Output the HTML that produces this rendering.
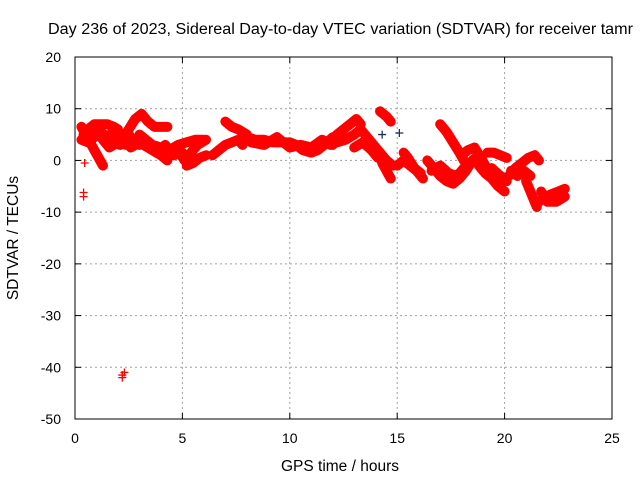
<!DOCTYPE html>
<html><head><meta charset="utf-8"><style>
html,body{margin:0;padding:0;background:#fff;}
svg{display:block;font-family:"Liberation Sans",sans-serif;}
</style></head><body>
<svg id="chart" width="640" height="480">
<g id="grid"></g>
<g id="marks"></g>
<g id="axes"></g>
<text x="48" y="34" font-size="15.5" textLength="585" lengthAdjust="spacingAndGlyphs">Day 236 of 2023, Sidereal Day-to-day VTEC variation (SDTVAR) for receiver tamr</text>
<text x="340" y="471" font-size="15.5" text-anchor="middle">GPS time / hours</text>
<text transform="translate(18,238) rotate(-90)" font-size="15.5" text-anchor="middle">SDTVAR / TECUs</text>
</svg>
<script>
const xTicks=[0,5,10,15,20,25];
const yTicks=[20,10,0,-10,-20,-30,-40,-50];
const trackA=[[0.3,6.5],[0.5,5],[0.7,3.5],[0.9,2],[1.1,0.5],[1.3,-1]];
const trackB=[[0.3,4],[0.6,3.5],[0.9,4.5],[1.2,5.5],[1.5,4.5],[1.8,3.5],[2.1,3]];
const trackC=[[0.6,6],[0.9,7],[1.2,7],[1.5,7],[1.8,6.5],[2.0,6]];
const trackC2=[[0.4,5],[0.7,5.5],[1.0,6],[1.3,4],[1.6,2.5],[2.0,3.5],[2.4,3]];
const trackD=[[1.5,4.5],[1.8,5.5],[2.2,4.5],[2.5,5],[2.8,3.5],[3.0,3]];
const trackE=[[2.2,4],[2.5,6],[2.8,8],[3.1,9],[3.4,7.5],[3.7,6.5],[4.0,6.5],[4.3,6.5]];
const trackF=[[3.0,5],[3.3,4],[3.6,3],[4.0,2.5],[4.4,2],[4.8,3],[5.2,3.5],[5.6,4],[6.0,4]];
const trackF2=[[2.6,2.5],[3.0,3.5],[3.4,2.5],[3.8,1.5],[4.2,3],[4.6,1],[5.0,1.5]];
const trackG=[[3.2,3],[3.6,2],[4.0,1],[4.3,0]];
const trackH=[[4.5,1.5],[4.8,2],[5.1,0],[5.4,1.5],[5.7,3],[6.1,4]];
const trackI=[[5.2,-1],[5.5,-0.5],[5.8,0.5],[6.1,1]];
const trackJ=[[6.4,1],[6.7,2],[7.0,3],[7.3,3.5],[7.6,4],[7.8,3]];
const trackK=[[7.0,7.5],[7.3,6.5],[7.6,6],[8.0,5]];
const trackL=[[8.0,4.5],[8.4,4],[8.8,4],[9.2,3.5],[9.6,3.5],[10.0,3.5],[10.3,3],[10.6,2],[11.0,1.5],[11.3,2],[11.6,3],[12.0,4.5]];
const trackL2=[[8.2,3.5],[8.8,3],[9.4,4.5],[10.0,2.5],[10.5,3],[11.0,2.5],[11.5,4],[12.0,3]];
const trackM=[[11.9,3],[12.2,5],[12.5,6],[12.8,7],[13.1,8],[13.3,7]];
const trackN=[[12.2,3.5],[12.6,4],[13.0,5],[13.3,6],[13.6,4.5],[13.9,3],[14.2,1.5],[14.5,0],[14.8,-1]];
const trackO=[[13.0,2.5],[13.4,3.5],[13.8,2],[14.1,0.5]];
const trackP=[[14.2,9.5],[14.5,8.5],[14.7,7.5]];
const trackQ=[[14.3,-0.5],[14.5,-2],[14.7,-3.5]];
const trackR=[[15.0,-1],[15.3,0],[15.6,-1],[15.9,-2],[16.2,-3.5]];
const trackR2=[[15.3,1.5],[15.5,0.5],[15.8,-1.5],[16.1,-2.5]];
const trackS=[[16.4,0],[16.7,-1.5],[17.0,-3],[17.3,-4],[17.6,-4.5],[17.9,-3.5],[18.2,-2],[18.5,0],[18.8,1]];
const trackS2=[[16.6,-2],[17.0,-1],[17.4,-2.5],[17.8,-3],[18.2,-1]];
const trackT=[[17.0,7],[17.3,5.5],[17.6,3.5],[17.9,1.5],[18.1,0]];
const trackU=[[18.0,1],[18.3,2],[18.6,2.5],[18.9,0.5],[19.1,-1]];
const trackV=[[19.2,1.5],[19.5,1.5],[19.8,1],[20.1,0.5]];
const trackW=[[18.8,-1],[19.1,-2.5],[19.4,-3.5],[19.7,-5],[20.0,-6]];
const trackW2=[[19.0,-2],[19.4,-1.5],[19.8,-3],[20.1,-4]];
const trackX=[[20.2,-3],[20.5,-1.5],[20.8,-0.5],[21.1,0.5],[21.4,1],[21.6,0]];
const trackX2=[[20.3,-2],[20.6,-3],[20.9,-2],[21.2,-3]];
const trackY=[[21.0,-4],[21.2,-6],[21.4,-8],[21.5,-9]];
const trackZ=[[21.6,-8],[21.9,-7],[22.2,-6.5],[22.5,-6],[22.8,-5.5]];
const trackZ2=[[21.7,-6],[22.0,-8],[22.4,-8],[22.8,-7]];
const outliers=[[0.4,-6.2],[0.4,-7],[0.45,-0.5],[2.2,-41.5],[2.3,-41],[2.2,-42]];
const darkPoints=[[14.3,5],[15.1,5.3]];
const tracks=[trackA,trackB,trackC,trackC2,trackD,trackE,trackF,trackF2,trackG,trackH,trackI,trackJ,trackK,trackL,trackL2,trackM,trackN,trackO,trackP,trackQ,trackR,trackR2,trackS,trackS2,trackT,trackU,trackV,trackW,trackW2,trackX,trackX2,trackY,trackZ,trackZ2];

const X0=75,X1=612,Y0=419,Y1=57;
const xs=h=>X0+(h-0)/25*(X1-X0);
const ys=v=>Y0-(v+50)/70*(Y0-Y1);
const NS="http://www.w3.org/2000/svg";
function mk(tag,parent,attrs){const e=document.createElementNS(NS,tag);for(const k in attrs)e.setAttribute(k,attrs[k]);parent.appendChild(e);return e;}
const grid=document.getElementById('grid'),axes=document.getElementById('axes'),marks=document.getElementById('marks');

xTicks.forEach(t=>{const x=xs(t);
 if(t>0&&t<25){const g=mk('line',grid,{x1:x,x2:x,y1:Y1,y2:Y0,stroke:'#a0a0a0','stroke-dasharray':'2,3'});
 }
 mk('line',axes,{x1:x,x2:x,y1:Y0,y2:Y0-6,stroke:'#000'});mk('line',axes,{x1:x,x2:x,y1:Y1,y2:Y1+6,stroke:'#000'});
 const l=mk('text',axes,{x:x,y:443,'font-size':14,'text-anchor':'middle'});l.textContent=t;
 });
yTicks.forEach(t=>{const y=ys(t);
 if(t>-50&&t<20){const g=mk('line',grid,{x1:X0,x2:X1,y1:y,y2:y,stroke:'#a0a0a0','stroke-dasharray':'2,3'});
 }
 mk('line',axes,{x1:X0,x2:X0+6,y1:y,y2:y,stroke:'#000'});mk('line',axes,{x1:X1,x2:X1-6,y1:y,y2:y,stroke:'#000'});
 const l=mk('text',axes,{x:61,y:y+5,'font-size':14,'text-anchor':'end'});l.textContent=t;
 });
const fr=mk('rect',axes,{x:X0,y:Y1,width:X1-X0,height:Y0-Y1,fill:'none',stroke:'#000'});


function plus(p,color,parent){const x=xs(p[0]),y=ys(p[1]);
 const e=mk('path',parent,{d:`M${x-4},${y}H${x+4}M${x},${y-4}V${y+4}`,stroke:color,'stroke-width':1.3});
 }
tracks.forEach(tr=>{
 const pl=mk('polyline',marks,{points:tr.map(p=>xs(p[0])+','+ys(p[1])).join(' '),fill:'none',stroke:'#ff0000','stroke-width':10,'stroke-linejoin':'round','stroke-linecap':'round'});
 
 tr.forEach(p=>plus(p,'#ff0000',marks));});
outliers.forEach(p=>plus(p,'#ff0000',marks));
darkPoints.forEach(p=>plus(p,'#203060',marks));
</script>
</body></html>
